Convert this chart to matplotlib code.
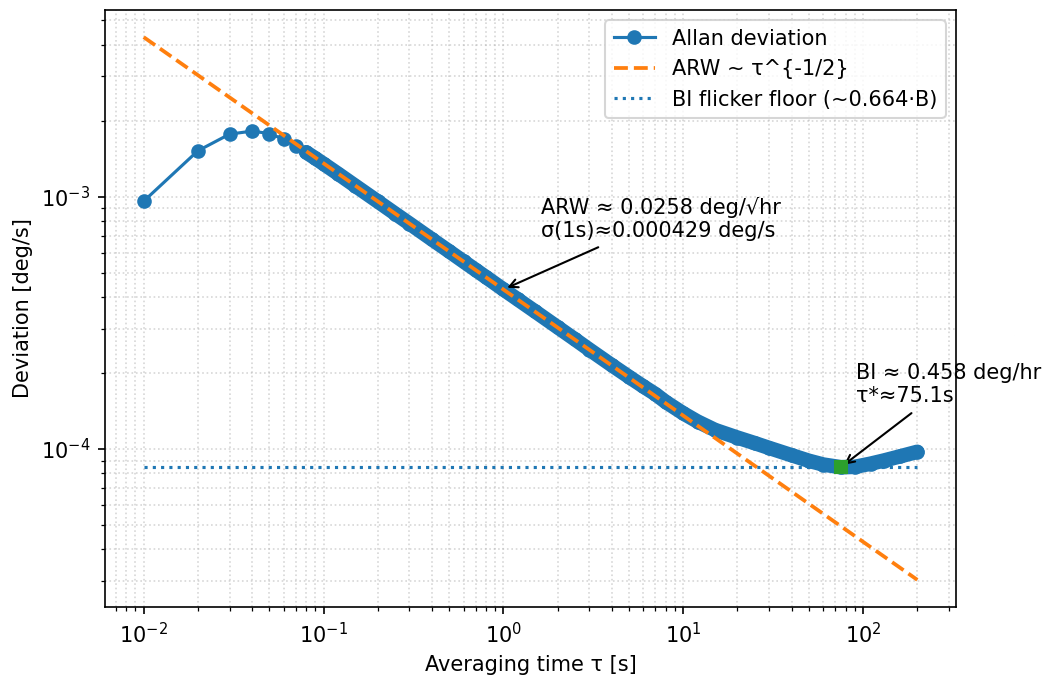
import numpy as np
import matplotlib
matplotlib.use("Agg")
import matplotlib.pyplot as plt

# Allan deviation (tau in s, deviation in deg/s)
tau = [0.01, 0.02, 0.03, 0.04, 0.05, 0.06, 0.07, 0.08, 0.09, 0.10,
       0.12, 0.15, 0.2, 0.25, 0.3, 0.4, 0.5, 0.6, 0.7, 0.8,
       1.0, 1.2, 1.5, 2.0, 2.5, 3.0, 4.0, 5.0, 6.0, 7.0,
       8.0, 10.0, 12.0, 15.0, 20.0, 25.0, 30.0, 40.0, 50.0, 60.0,
       75.1, 90.0, 110.0, 130.0, 160.0, 200.0]
adev = [9.6e-4, 1.52e-3, 1.77e-3, 1.82e-3, 1.78e-3, 1.69e-3, 1.59e-3, 1.50e-3, 1.42e-3, 1.35e-3,
        1.235e-3, 1.105e-3, 9.58e-4, 8.57e-4, 7.83e-4, 6.78e-4, 6.07e-4, 5.54e-4, 5.13e-4, 4.80e-4,
        4.29e-4, 3.92e-4, 3.51e-4, 3.04e-4, 2.72e-4, 2.48e-4, 2.15e-4, 1.93e-4, 1.77e-4, 1.65e-4,
        1.535e-4, 1.385e-4, 1.285e-4, 1.19e-4, 1.11e-4, 1.055e-4, 1.01e-4, 9.45e-5, 8.98e-5, 8.68e-5,
        8.47e-5, 8.5e-5, 8.75e-5, 9.0e-5, 9.35e-5, 9.75e-5]

# ARW fit line end points and flicker floor
arw_tau = [0.01, 200.0]
arw_dev = [4.29e-3, 3.03e-5]
floor_tau = [0.01, 200.0]
floor_dev = [8.45e-5, 8.45e-5]

# annotated points
arw_pt = (1.0, 4.29e-4)
bi_pt = (75.1, 8.47e-5)

fig = plt.figure(figsize=(1047 / 150, 677 / 150), dpi=150)
ax = fig.add_subplot(1, 1, 1)
fig.subplots_adjust(left=0.1003, right=0.9131, top=0.9852, bottom=0.1034)

# dense markers in the original merge into a band
ax.plot(tau[7:], adev[7:], '-', color='C0', lw=7, solid_capstyle='round',
        solid_joinstyle='round')
ax.plot(tau, adev, 'o-', color='C0', ms=6, lw=1.5, label='Allan deviation')
ax.plot(arw_tau, arw_dev, '--', color='C1', lw=1.8, label='ARW ~ τ^{-1/2}')
ax.plot(floor_tau, floor_dev, ':', color='C0', lw=1.5, label='BI flicker floor (~0.664·B)')
ax.plot([bi_pt[0]], [bi_pt[1]], 's', color='C2', ms=6, zorder=5)

ax.set_xscale('log')
ax.set_yscale('log')
ax.set_xlabel('Averaging time τ [s]')
ax.set_ylabel('Deviation [deg/s]')
ax.grid(True, which='both', ls=':', lw=0.8, alpha=0.5)

ax.annotate('ARW ≈ 0.0258 deg/√hr\nσ(1s)≈0.000429 deg/s', xy=arw_pt,
            xytext=(1.62, 6.9e-4),
            arrowprops=dict(arrowstyle='->', color='k', lw=1))
ax.annotate('BI ≈ 0.458 deg/hr\nτ*≈75.1s', xy=bi_pt,
            xytext=(91.0, 1.53e-4),
            arrowprops=dict(arrowstyle='->', color='k', lw=1))

ax.legend(loc='upper right')

plt.savefig('out.png', dpi=150)
plt.close()
